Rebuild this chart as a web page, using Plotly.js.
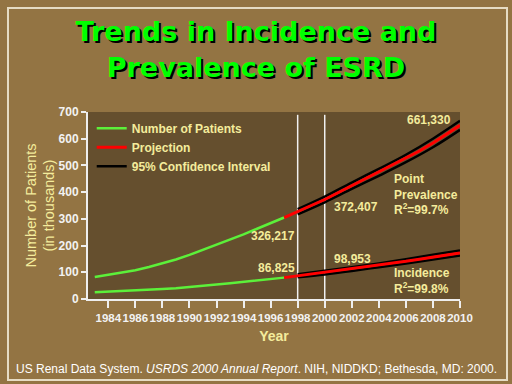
<!DOCTYPE html>
<html>
<head>
<meta charset="utf-8">
<script src="https://cdn.plot.ly/plotly-3.0.1.min.js"></script>
<style>
  html, body { margin: 0; padding: 0; background: #937443; }
  #wrap { position: relative; width: 512px; height: 384px; }
  #chart { width: 512px; height: 384px; }
  #frame { position: absolute; left: 7px; top: 7px; width: 497px; height: 370px;
           border: 2px solid #e6dcc4; pointer-events: none; }
</style>
</head>
<body>
<div id="wrap">
  <div id="chart"></div>
  <div id="frame"></div>
</div>
<script>
// Observed years and values (thousands)
const obsYears = [1983,1984,1985,1986,1987,1988,1989,1990,1991,1992,1993,1994,1995,1996,1997];
const prevObs  = [82,90,98,108,120,133,148,165,184,203,222,242,263,284,305];
const incObs   = [25,27,29,31,34,37,40,44,49,54,59,64,70,75,80];

// Projection
const projYears = [1997,1998,1999,2000,2001,2002,2003,2004,2005,2006,2007,2008,2009,2010];
const prevProj  = [305,326.2,350,372.4,398,424,449,474,500,526,554,584,616,650];
const incProj   = [80,86.8,93,99,105,112,119,126,134,141,149,157,165,172.7];

// 95% confidence interval (from 1998)
const ciYears = [1998,2000,2002,2004,2006,2008,2010];
const prevHi  = [336,383,436,487,540,600,667];
const prevLo  = [317,362,412,461,512,568,633];
const incHi   = [93,106,119,133,149,166,182];
const incLo   = [81,92,105,119,133,148,163];

const xTicks = [1984,1986,1988,1990,1992,1994,1996,1998,2000,2002,2004,2006,2008,2010];
const yTicks = [0,100,200,300,400,500,600,700];

const GREEN = '#5cf03a', RED = '#ff0000', BLACK = '#000000';
const LABEL = '#f4ec9c';
const SANS = '"Liberation Sans", Arial, sans-serif';

const traces = [
  {x: obsYears, y: prevObs, mode: 'lines', line: {color: GREEN, width: 2.5}, name: 'Number of Patients', legendgroup: 'g', showlegend: true},
  {x: obsYears, y: incObs, mode: 'lines', line: {color: GREEN, width: 2.5}, name: 'Number of Patients', legendgroup: 'g', showlegend: false},
  {x: ciYears, y: prevHi, mode: 'lines', line: {color: BLACK, width: 2.5, shape: 'spline'}, name: '95% Confidence Interval', legendgroup: 'c', showlegend: false},
  {x: ciYears, y: prevLo, mode: 'lines', line: {color: BLACK, width: 2.5, shape: 'spline'}, name: '95% Confidence Interval', legendgroup: 'c', showlegend: false},
  {x: ciYears, y: incHi, mode: 'lines', line: {color: BLACK, width: 2.5, shape: 'spline'}, name: '95% Confidence Interval', legendgroup: 'c', showlegend: false},
  {x: ciYears, y: incLo, mode: 'lines', line: {color: BLACK, width: 2.5, shape: 'spline'}, name: '95% Confidence Interval', legendgroup: 'c', showlegend: false},
  {x: projYears, y: prevProj, mode: 'lines', line: {color: RED, width: 3}, name: 'Projection', legendgroup: 'r', showlegend: true},
  {x: projYears, y: incProj, mode: 'lines', line: {color: RED, width: 3}, name: 'Projection', legendgroup: 'r', showlegend: false},
  {x: [2003], y: [-100], mode: 'lines', line: {color: BLACK, width: 2.5}, name: '95% Confidence Interval', legendgroup: 'c', showlegend: true}
];

function ann(text, x, y, xanchor) {
  return {text: text, x: x, y: y, xref: 'x', yref: 'y', xanchor: xanchor, yanchor: 'middle',
          showarrow: false, align: 'left',
          font: {family: SANS, size: 12, color: LABEL, weight: 'bold'}};
}

const layout = {
  width: 512, height: 384,
  paper_bgcolor: '#937443',
  plot_bgcolor: '#654f2e',
  margin: {l: 88, r: 52, t: 112, b: 85},
  title: {
    text: 'Trends in Incidence and<br>Prevalence of ESRD',
    x: 0.5, xref: 'container', xanchor: 'center',
    y: 0.892, yref: 'container', yanchor: 'top',
    font: {family: '"DejaVu Sans", "Liberation Sans", sans-serif', size: 27, color: '#00ff00', weight: 'bold',
           shadow: '2px 2px 0px #000000'}
  },
  showlegend: true,
  legend: {x: 0.01, y: 0.99, xanchor: 'left', yanchor: 'top', bgcolor: 'rgba(0,0,0,0)',
           font: {family: SANS, size: 12, color: LABEL, weight: 'bold'},
           tracegroupgap: 0, itemwidth: 30, traceorder: 'normal'},
  xaxis: {
    range: [1982.5, 2010], tickvals: xTicks, ticktext: xTicks.map(String), tickangle: 0,
    ticks: 'outside', ticklen: 7, tickwidth: 2, tickcolor: '#eeeeee',
    showline: true, linecolor: '#eeeeee', linewidth: 2,
    showgrid: false, zeroline: false,
    tickfont: {family: SANS, size: 11.5, color: '#f2f2f2', weight: 'bold'},
    title: {text: 'Year', standoff: 8, font: {family: SANS, size: 14, color: LABEL, weight: 'bold'}}
  },
  yaxis: {
    range: [0, 700], tickvals: yTicks, ticktext: yTicks.map(String),
    ticks: 'outside', ticklen: 5, tickwidth: 2, tickcolor: '#eeeeee',
    showline: true, linecolor: '#eeeeee', linewidth: 2,
    showgrid: false, zeroline: false,
    tickfont: {family: SANS, size: 12, color: '#f2f2f2', weight: 'bold'},
    title: {text: 'Number of Patients<br>(in thousands)', standoff: 0,
            font: {family: SANS, size: 14.5, color: LABEL}}
  },
  shapes: [
    {type: 'line', xref: 'x', yref: 'paper', x0: 1998, x1: 1998, y0: 0, y1: 0.985, line: {color: '#f0f0f0', width: 1.5}, layer: 'below'},
    {type: 'line', xref: 'x', yref: 'paper', x0: 2000, x1: 2000, y0: 0, y1: 0.985, line: {color: '#f0f0f0', width: 1.5}, layer: 'below'}
  ],
  annotations: [
    ann('326,217', 1997.95, 234, 'right'),
    ann('86,825', 1997.95, 116, 'right'),
    ann('372,407', 2000.55, 344, 'left'),
    ann('98,953', 2000.55, 151, 'left'),
    ann('661,330', 2005.9, 669, 'left'),
    ann('172,667', 2010.05, 210, 'right'),
    ann('Point<br>Prevalence<br>R<sup>2</sup>=99.7%', 2004.95, 393, 'left'),
    ann('Incidence<br>R<sup>2</sup>=99.8%', 2004.95, 66, 'left'),
    {text: 'US Renal Data System. <i>USRDS 2000 Annual Report</i>. NIH, NIDDKD; Bethesda, MD: 2000.',
     xref: 'paper', yref: 'paper', x: 0.453, y: -0.373, xanchor: 'center', yanchor: 'middle',
     showarrow: false, font: {family: SANS, size: 12, color: '#ffffff'}}
  ]
};

Plotly.newPlot('chart', traces, layout, {displayModeBar: false, staticPlot: true});
</script>
</body>
</html>
